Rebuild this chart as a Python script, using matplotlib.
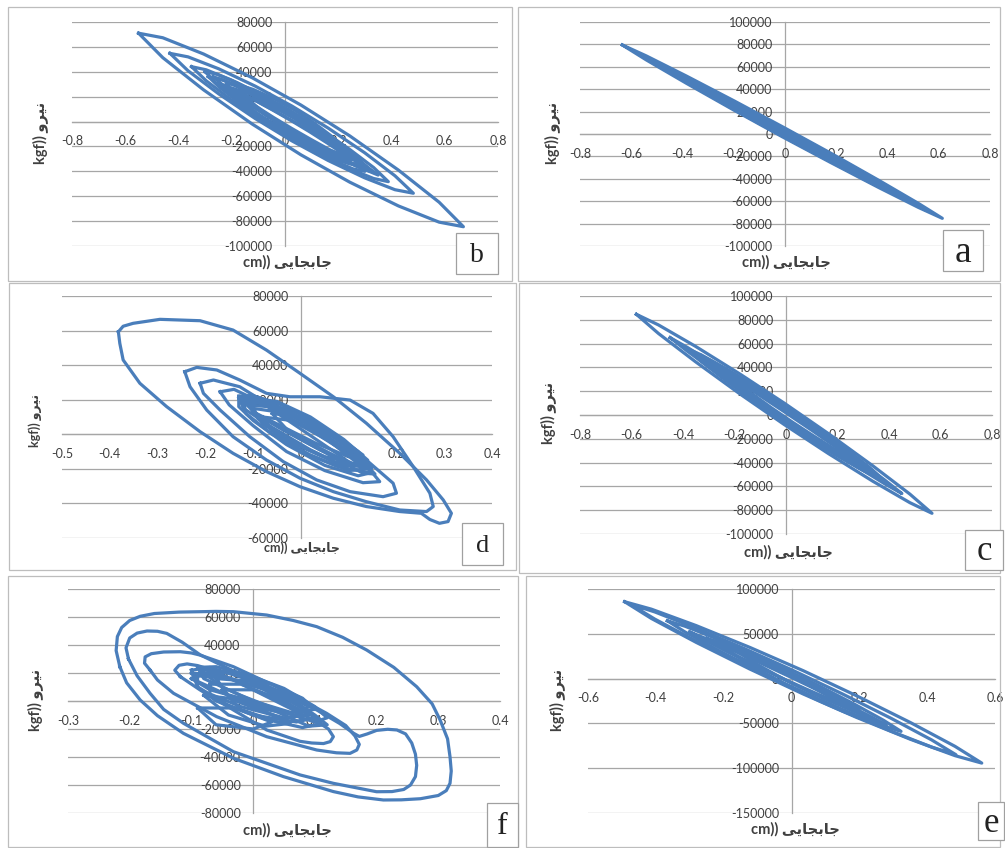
import matplotlib
matplotlib.use("Agg")
import matplotlib.pyplot as plt
from matplotlib.patches import Rectangle

W, H = 1005, 848
BLUE = "#4a7ebb"
GRID = "#a6a6a6"
TEXT = "#404040"

plt.rcParams["font.family"] = ["Lato", "DejaVu Sans"]

# displacement (cm), force (kgf) -- one list of vertices per hysteresis loop
b_loops = [
    [(-0.55, 71000), (-0.459, 67340), (-0.306, 54300), (-0.123, 35175), (0.06, 13250), (0.243, -11475), (0.426, -39000), (0.579, -64840),
     (0.67, -84500), (0.579, -80840), (0.426, -67800), (0.243, -48675), (0.06, -26750), (-0.123, -2025), (-0.306, 25500), (-0.459, 51340)],
    [(-0.432, 54800), (-0.364, 51970), (-0.249, 42400), (-0.112, 28480), (0.025, 12600), (0.162, -5240), (0.299, -25040), (0.413, -43570),
     (0.482, -57600), (0.413, -54770), (0.299, -45200), (0.162, -31280), (0.025, -15400), (-0.112, 2440), (-0.249, 22240), (-0.364, 40770)],
    [(-0.351, 44100), (-0.296, 41570), (-0.203, 33540), (-0.092, 21990), (0.019, 8900), (0.129, -5730), (0.24, -21900), (0.333, -36970),
     (0.388, -48300), (0.333, -45770), (0.24, -37740), (0.129, -26190), (0.019, -13100), (-0.092, 1530), (-0.203, 17700), (-0.296, 32770)],
    [(-0.288, 36100), (-0.243, 34180), (-0.168, 27860), (-0.078, 18710), (0.013, 8300), (0.103, -3370), (0.193, -16300), (0.268, -28380),
     (0.313, -37500), (0.268, -35580), (0.193, -29260), (0.103, -20110), (0.013, -9700), (-0.078, 1970), (-0.168, 14900), (-0.243, 26980)],
    [(-0.238, 28000), (-0.2, 26985), (-0.138, 22520), (-0.063, 15770), (0.013, 7900), (0.088, -1090), (0.163, -11200), (0.225, -20785),
     (0.263, -28200), (0.225, -27185), (0.163, -22720), (0.088, -15970), (0.013, -8100), (-0.063, 890), (-0.138, 11000), (-0.2, 20585)],
    [(-0.19, 22000), (-0.153, 20850), (-0.092, 16160), (-0.019, 9140), (0.055, 1000), (0.129, -8260), (0.202, -18640), (0.263, -28450),
     (0.30, -36000), (0.263, -34850), (0.202, -30160), (0.129, -23140), (0.055, -15000), (-0.019, -5740), (-0.092, 4640), (-0.153, 14450)],
    [(-0.14, 19000), (-0.113, 17950), (-0.068, 14120), (-0.014, 8480), (0.04, 2000), (0.094, -5320), (0.148, -13480), (0.193, -21150),
     (0.22, -27000), (0.193, -25950), (0.148, -22120), (0.094, -16480), (0.04, -10000), (-0.014, -2680), (-0.068, 5480), (-0.113, 13150)],
    [(-0.25, 31000), (-0.205, 27050), (-0.13, 19080), (-0.04, 8820), (0.05, -2000), (0.14, -13380), (0.23, -25320), (0.305, -35850),
     (0.35, -43000), (0.305, -39050), (0.23, -31080), (0.14, -20820), (0.05, -10000), (-0.04, 1380), (-0.13, 13320), (-0.205, 23850)],
    [(-0.3, 40000), (-0.255, 38000), (-0.18, 31200), (-0.09, 21300), (0.0, 10000), (0.09, -2700), (0.18, -16800), (0.255, -30000),
     (0.3, -40000), (0.255, -38000), (0.18, -31200), (0.09, -21300), (0.0, -10000), (-0.09, 2700), (-0.18, 16800), (-0.255, 30000)],
    [(-0.2, 26000), (-0.166, 22925), (-0.11, 16760), (-0.043, 8840), (0.025, 500), (0.093, -8260), (0.16, -17440), (0.216, -25525),
     (0.25, -31000), (0.216, -27925), (0.16, -21760), (0.093, -13840), (0.025, -5500), (-0.043, 3260), (-0.11, 12440), (-0.166, 20525)],
    [(-0.27, 36000), (-0.226, 32700), (-0.152, 25120), (-0.064, 14980), (0.025, 4000), (0.114, -7820), (0.202, -20480), (0.276, -31900),
     (0.32, -40000), (0.276, -36700), (0.202, -29120), (0.114, -18980), (0.025, -8000), (-0.064, 3820), (-0.152, 16480), (-0.226, 27900)],
    [(-0.22, 30000), (-0.183, 30000), (-0.12, 25840), (-0.045, 18760), (0.03, 10000), (0.105, -440), (0.18, -12560), (0.243, -24400),
     (0.28, -34000), (0.243, -34000), (0.18, -29840), (0.105, -22760), (0.03, -14000), (-0.045, -3560), (-0.12, 8560), (-0.183, 20400)],
]

a_loops = [
    [(-0.635, 79500), (-0.541, 69690), (-0.385, 51780), (-0.198, 29505), (-0.011, 6600), (0.177, -16935), (0.364, -41100), (0.52, -61890),
     (0.614, -75300), (0.52, -65490), (0.364, -47580), (0.177, -25305), (-0.011, -2400), (-0.198, 21135), (-0.385, 45300), (-0.541, 66090)],
    [(-0.42, 52000), (-0.353, 45225), (-0.242, 32720), (-0.109, 17105), (0.025, 1000), (0.159, -15595), (0.292, -32680), (0.403, -47425),
     (0.47, -57000), (0.403, -50225), (0.292, -37720), (0.159, -22105), (0.025, -6000), (-0.109, 10595), (-0.242, 27680), (-0.353, 42425)],
    [(-0.3, 38000), (-0.251, 32925), (-0.17, 23600), (-0.073, 11975), (0.025, 0), (0.123, -12325), (0.22, -25000), (0.301, -35925),
     (0.35, -43000), (0.301, -37925), (0.22, -28600), (0.123, -16975), (0.025, -5000), (-0.073, 7325), (-0.17, 20000), (-0.251, 30925)],
    [(-0.55, 69000), (-0.468, 59525), (-0.33, 43040), (-0.165, 22910), (0.0, 2500), (0.165, -18190), (0.33, -39160), (0.468, -56925),
     (0.55, -68000), (0.468, -58525), (0.33, -42040), (0.165, -21910), (0.0, -1500), (-0.165, 19190), (-0.33, 40160), (-0.468, 57925)],
    [(-0.48, 60000), (-0.407, 52050), (-0.284, 37760), (-0.137, 20090), (0.01, 2000), (0.157, -16510), (0.304, -35440), (0.427, -51650),
     (0.5, -62000), (0.427, -54050), (0.304, -39760), (0.157, -22090), (0.01, -4000), (-0.137, 14510), (-0.284, 33440), (-0.407, 49650)],
    [(-0.38, 47000), (-0.32, 40175), (-0.22, 28280), (-0.1, 13745), (0.02, -1000), (0.14, -15955), (0.26, -31120), (0.36, -43975),
     (0.42, -52000), (0.36, -45175), (0.26, -33280), (0.14, -18745), (0.02, -4000), (-0.1, 10955), (-0.22, 26120), (-0.32, 38975)],
]

d_loops = [
    [(-0.382, 59300), (-0.372, 62500), (-0.351, 64200), (-0.295, 66500), (-0.211, 65700), (-0.142, 60300), (-0.072, 48700),
     (-0.002, 35300), (0.068, 21700), (0.137, 6400), (0.207, -11000), (0.263, -26400), (0.298, -38000),
     (0.315, -45700), (0.308, -50500), (0.29, -51500), (0.27, -49300), (0.252, -45700), (0.207, -44700),
     (0.137, -41800), (0.068, -37000), (-0.002, -30300), (-0.072, -21600), (-0.142, -11000), (-0.211, 1500),
     (-0.281, 16000), (-0.337, 29500), (-0.372, 43000), (-0.379, 52600)],
    [(-0.243, 36200), (-0.218, 38700), (-0.176, 37200), (-0.128, 31400), (-0.072, 23700), (-0.023, 21700),
     (0.04, 21700), (0.103, 19800), (0.151, 12100), (0.193, -1400), (0.235, -18700), (0.27, -34100),
     (0.277, -41800), (0.263, -44700), (0.207, -43800), (0.137, -39000), (0.068, -33200), (-0.002, -25400),
     (-0.072, -14900), (-0.142, -1400), (-0.197, 14000), (-0.232, 27500)],
    [(-0.211, 29500), (-0.183, 31400), (-0.128, 27500), (-0.072, 17900), (-0.002, 8300), (0.068, -1400),
     (0.137, -14900), (0.193, -28300), (0.2, -34100), (0.172, -36100), (0.103, -33200), (0.033, -26400),
     (-0.037, -15800), (-0.107, -1400), (-0.169, 14000), (-0.204, 23700)],
    [(-0.169, 24600), (-0.14, 26000), (-0.08, 18000), (0.0, 6000), (0.08, -8000), (0.14, -19000),
     (0.165, -27400), (0.13, -28000), (0.05, -21000), (-0.03, -10000), (-0.1, 5000), (-0.15, 17000)],
    [(-0.13, 22000), (-0.1, 22500), (-0.03, 14000), (0.05, 2000), (0.12, -12000), (0.15, -22000),
     (0.12, -24000), (0.05, -18000), (-0.03, -6000), (-0.1, 8000), (-0.13, 16000)],
    [(-0.12, 19000), (-0.06, 17000), (0.02, 5000), (0.1, -10000), (0.14, -20000), (0.1, -21000),
     (0.02, -12000), (-0.06, 0), (-0.115, 12000)],
    [(-0.1, 15000), (-0.05, 13000), (0.03, 2000), (0.11, -14000), (0.13, -19000), (0.07, -16000),
     (-0.01, -6000), (-0.08, 6000)],
    [(-0.11, 21000), (-0.05, 19000), (0.02, 10000), (0.09, -3000), (0.14, -15000), (0.11, -17000),
     (0.04, -9000), (-0.04, 3000), (-0.1, 13000)],
    [(-0.08, 10000), (-0.02, 8000), (0.06, -4000), (0.12, -17000), (0.08, -19000), (0.0, -10000), (-0.06, 2000)],
    [(-0.125, 20000), (-0.08, 20500), (-0.02, 12000), (0.06, -2000), (0.13, -16000), (0.155, -23000),
     (0.13, -22500), (0.06, -12000), (-0.02, 0), (-0.09, 11000)],
    [(-0.06, 12000), (0.0, 10000), (0.07, 0), (0.12, -10000), (0.145, -19000), (0.11, -18000), (0.04, -8000), (-0.03, 3000)],
    [(-0.11, 17000), (-0.07, 16000), (0.0, 3000), (0.08, -12000), (0.1, -16000), (0.05, -13000), (-0.03, -3000), (-0.09, 9000)],
    [(-0.1, 19000), (-0.04, 15000), (0.04, 4000), (0.1, -6000), (0.13, -12000), (0.1, -13000), (0.03, -5000), (-0.05, 6000), (-0.1, 13000)],
    [(-0.13, 21000), (-0.09, 21500), (-0.04, 17000), (0.03, 7000), (0.1, -8000), (0.15, -19000), (0.14, -22000),
     (0.1, -20000), (0.02, -9000), (-0.06, 4000), (-0.12, 15000)],
]

c_loops = [
    [(-0.581, 84600), (-0.495, 75660), (-0.351, 57640), (-0.179, 34450), (-0.007, 10000), (0.165, -15710), (0.337, -42680), (0.481, -66460),
     (0.567, -82600), (0.481, -73660), (0.337, -55640), (0.165, -32450), (-0.007, -8000), (-0.179, 17710), (-0.351, 44680), (-0.495, 68460)],
    [(-0.386, 56000), (-0.329, 50505), (-0.233, 38920), (-0.118, 23800), (-0.004, 7700), (0.111, -9380), (0.226, -27440), (0.322, -43505),
     (0.379, -54600), (0.322, -49105), (0.226, -37520), (0.111, -22400), (-0.004, -6300), (-0.118, 10780), (-0.233, 28840), (-0.329, 44905)],
    [(-0.33, 50000), (-0.281, 44500), (-0.198, 33600), (-0.099, 19650), (0.0, 5000), (0.099, -10350), (0.198, -26400), (0.281, -40500),
     (0.33, -50000), (0.281, -44500), (0.198, -33600), (0.099, -19650), (0.0, -5000), (-0.099, 10350), (-0.198, 26400), (-0.281, 40500)],
    [(-0.25, 38000), (-0.209, 33600), (-0.14, 24880), (-0.058, 13720), (0.025, 2000), (0.108, -10280), (0.19, -23120), (0.259, -34400),
     (0.3, -42000), (0.259, -37600), (0.19, -28880), (0.108, -17720), (0.025, -6000), (-0.058, 6280), (-0.14, 19120), (-0.209, 30400)],
    [(-0.37, 53000), (-0.315, 46050), (-0.224, 33600), (-0.115, 18225), (-0.005, 2500), (0.105, -13575), (0.214, -30000), (0.305, -44050),
     (0.36, -53000), (0.305, -46050), (0.214, -33600), (0.105, -18225), (-0.005, -2500), (-0.115, 13575), (-0.224, 30000), (-0.315, 44050)],
    [(-0.45, 65000), (-0.383, 56775), (-0.27, 41680), (-0.135, 22870), (0.0, 3500), (0.135, -16430), (0.27, -36920), (0.383, -54575),
     (0.45, -66000), (0.383, -57775), (0.27, -42680), (0.135, -23870), (0.0, -4500), (-0.135, 15430), (-0.27, 35920), (-0.383, 53575)],
    [(-0.3, 44000), (-0.254, 39975), (-0.176, 30840), (-0.083, 18660), (0.01, 5500), (0.103, -8640), (0.196, -23760), (0.274, -37375),
     (0.32, -47000), (0.274, -42975), (0.196, -33840), (0.103, -21660), (0.01, -8500), (-0.083, 5640), (-0.176, 20760), (-0.254, 34375)],
]

f_loops = [
    [(-0.216, 24500), (-0.222, 36000), (-0.22, 46000), (-0.213, 52500), (-0.2, 57500), (-0.183, 60500), (-0.16, 62500),
     (-0.12, 63500), (-0.06, 64000), (-0.032, 63800), (0.022, 61400), (0.065, 57500), (0.103, 53100), (0.145, 45500),
     (0.184, 36400), (0.228, 24000), (0.265, 10200), (0.29, -2000), (0.303, -13600), (0.315, -27000), (0.319, -39800),
     (0.321, -50000), (0.319, -58800), (0.313, -64000), (0.3, -67500), (0.271, -69800), (0.24, -70600), (0.211, -70700),
     (0.17, -68500), (0.13, -64700), (0.049, -54000), (-0.032, -40900), (-0.113, -23100), (-0.155, -10500), (-0.183, 700),
     (-0.205, 13000)],
    [(-0.202, 30000), (-0.206, 38000), (-0.2, 45000), (-0.188, 48500), (-0.172, 50000), (-0.155, 49800), (-0.14, 48300),
     (-0.115, 42000), (-0.086, 33000), (-0.03, 21000), (0.022, 10200), (0.103, -6400), (0.14, -16000), (0.163, -23100),
     (0.172, -25300), (0.185, -23500), (0.2, -21000), (0.218, -20200), (0.233, -20700), (0.247, -23500), (0.257, -30000),
     (0.263, -38000), (0.265, -46000), (0.263, -54000), (0.255, -60000), (0.244, -63200), (0.225, -64700), (0.2, -64800),
     (0.13, -58800), (0.076, -52800), (-0.032, -36200), (-0.113, -15900), (-0.145, -6000), (-0.167, 5500), (-0.188, 18000)],
    [(-0.167, 22100), (-0.176, 27000), (-0.175, 31500), (-0.165, 33800), (-0.145, 35000), (-0.118, 35200), (-0.1, 34300),
     (-0.086, 32800), (-0.032, 24500), (0.049, 7900), (0.119, -8800), (0.15, -17500), (0.165, -25000), (0.172, -31000),
     (0.168, -35000), (0.157, -37400), (0.135, -37000), (0.103, -35000), (0.022, -25500), (-0.059, -11200), (-0.129, 5500),
     (-0.155, 15000)],
    [(-0.118, 17400), (-0.127, 22000), (-0.12, 25500), (-0.107, 26500), (-0.09, 25300), (-0.075, 23300), (-0.032, 15000),
     (0.022, 3100), (0.076, -8800), (0.105, -15000), (0.122, -20000), (0.13, -25500), (0.125, -29000), (0.114, -30400),
     (0.095, -30000), (0.076, -28800), (0.022, -20700), (-0.032, -6400), (-0.086, 7900)],
    [(-0.1, 22000), (-0.07, 24000), (-0.02, 17000), (0.04, 5000), (0.09, -8000), (0.11, -16000),
     (0.08, -19000), (0.02, -13000), (-0.04, -3000), (-0.09, 10000)],
    [(-0.09, 18000), (-0.04, 16000), (0.02, 8000), (0.07, -2000), (0.1, -12000), (0.07, -15000),
     (0.0, -10000), (-0.06, 0), (-0.09, 10000)],
    [(-0.07, 12000), (-0.02, 12000), (0.05, 0), (0.09, -10000), (0.05, -12000), (-0.02, -4000), (-0.07, 5000)],
    [(-0.08, 20000), (-0.03, 20000), (0.03, 12000), (0.08, 2000), (0.1, -6000), (0.06, -8000), (0.0, 0), (-0.05, 10000)],
    [(-0.05, 8000), (0.0, 8000), (0.06, -3000), (0.08, -14000), (0.04, -15000), (-0.02, -6000)],
    [(-0.09, -5000), (-0.06, -17000), (0.0, -20000), (0.03, -15000), (-0.03, -5000)],
    [(-0.1, 16000), (-0.08, 22000), (-0.04, 21000), (0.01, 14000), (0.06, 2000), (0.1, -10000), (0.12, -17000),
     (0.09, -18000), (0.04, -8000), (-0.02, 2000), (-0.07, 8000)],
    [(-0.06, 16000), (0.0, 14000), (0.05, 6000), (0.09, -4000), (0.07, -10000), (0.02, -6000), (-0.04, 4000)],
    [(-0.08, 4000), (-0.04, 2000), (0.02, -8000), (0.06, -16000), (0.02, -18000), (-0.04, -10000)],
    [(-0.1, 20000), (-0.05, 18000), (0.01, 10000), (0.05, 0), (0.08, -10000), (0.05, -13000), (0.0, -4000), (-0.05, 6000), (-0.09, 14000)],
    [(-0.09, 24000), (-0.06, 24500), (-0.01, 19000), (0.05, 9000), (0.1, -4000), (0.12, -12000), (0.1, -15000),
     (0.05, -8000), (-0.02, 4000), (-0.08, 16000)],
]

e_loops = [
    [(-0.492, 85800), (-0.413, 77490), (-0.281, 59140), (-0.123, 34855), (0.035, 8750), (0.192, -19175), (0.35, -48920), (0.482, -75590),
     (0.561, -94300), (0.482, -85990), (0.35, -67640), (0.192, -43355), (0.035, -17250), (-0.123, 10675), (-0.281, 40420), (-0.413, 67090)],
    [(-0.475, 83000), (-0.403, 74400), (-0.283, 56600), (-0.139, 33500), (0.005, 9000), (0.149, -16900), (0.293, -44200), (0.413, -68400),
     (0.485, -85000), (0.413, -76400), (0.293, -58600), (0.149, -35500), (0.005, -11000), (-0.139, 14900), (-0.283, 42200), (-0.403, 66400)],
    [(-0.366, 64500), (-0.314, 58445), (-0.228, 45580), (-0.125, 28750), (-0.022, 10800), (0.082, -8270), (0.185, -28460), (0.271, -46445),
     (0.323, -58900), (0.271, -52845), (0.185, -39980), (0.082, -23150), (-0.022, -5200), (-0.125, 13870), (-0.228, 34060), (-0.314, 52045)],
    [(-0.198, 34600), (-0.165, 31235), (-0.111, 23200), (-0.046, 12340), (0.02, 500), (0.085, -12320), (0.15, -26120), (0.204, -38635),
     (0.237, -47600), (0.204, -44235), (0.15, -36200), (0.085, -25340), (0.02, -13500), (-0.046, -680), (-0.111, 13120), (-0.165, 25635)],
    [(-0.25, 45000), (-0.216, 41000), (-0.16, 32600), (-0.093, 21650), (-0.025, 10000), (0.043, -2350), (0.11, -15400), (0.166, -27000),
     (0.2, -35000), (0.166, -31000), (0.11, -22600), (0.043, -11650), (-0.025, 0), (-0.093, 12350), (-0.16, 25400), (-0.216, 37000)],
    [(-0.15, 28000), (-0.128, 25250), (-0.09, 19280), (-0.045, 11420), (0.0, 3000), (0.045, -5980), (0.09, -15520), (0.128, -24050),
     (0.15, -30000), (0.128, -27250), (0.09, -21280), (0.045, -13420), (0.0, -5000), (-0.045, 3980), (-0.09, 13520), (-0.128, 22050)],
    [(-0.3, 52000), (-0.257, 45400), (-0.184, 33360), (-0.097, 18390), (-0.01, 3000), (0.077, -12810), (0.164, -29040), (0.237, -43000),
     (0.28, -52000), (0.237, -45400), (0.164, -33360), (0.077, -18390), (-0.01, -3000), (-0.097, 12810), (-0.184, 29040), (-0.257, 43000)],
]

x_ticks_08 = [-0.8, -0.6, -0.4, -0.2, 0, 0.2, 0.4, 0.6, 0.8]
d_xticks = [-0.5, -0.4, -0.3, -0.2, -0.1, 0, 0.1, 0.2, 0.3, 0.4]
f_xticks = [-0.3, -0.2, -0.1, 0, 0.1, 0.2, 0.3, 0.4]
e_xticks = [-0.6, -0.4, -0.2, 0, 0.2, 0.4, 0.6]
b_yticks = [-100000, -80000, -60000, -40000, -20000, 0, 20000, 40000, 60000, 80000]
ac_yticks = [-100000, -80000, -60000, -40000, -20000, 0, 20000, 40000, 60000, 80000, 100000]
d_yticks = [-60000, -40000, -20000, 0, 20000, 40000, 60000, 80000]
f_yticks = [-80000, -60000, -40000, -20000, 0, 20000, 40000, 60000, 80000]
e_yticks = [-150000, -100000, -50000, 0, 50000, 100000]

# Persian labels written as presentation forms in display order
FORCE_LABEL = "kgf)) " + "\ufeed\ufeae\ufef4\ufee7"
DISP_LABEL = "cm)) " + "\ufef0\ufef3\ufe8e\ufea0\ufe91\ufe8e\ufe9f"


def fx(px):
    return px / W


def fy(py):
    return 1 - py / H


def draw_panel(fig, loops, xticks, yticks, plot, frame, box, letter, lsize, ylab, xlab, lab_size=10.5):
    x0, y0, x1, y1 = frame
    fig.patches.append(Rectangle((fx(x0), fy(y1)), fx(x1 - x0), (y1 - y0) / H, transform=fig.transFigure,
                                 fill=False, edgecolor="#bdbdbd", lw=0.9))

    p0, q0, p1, q1 = plot
    ax = fig.add_axes([fx(p0), fy(q1), fx(p1 - p0), (q1 - q0) / H])
    ax.patch.set_alpha(0)
    for yv in yticks:
        ax.axhline(yv, color=GRID, lw=0.9, zorder=1)
    for loop in loops:
        xs = [p[0] for p in loop] + [loop[0][0]]
        ys = [p[1] for p in loop] + [loop[0][1]]
        ax.plot(xs, ys, color=BLUE, lw=2.3, solid_joinstyle="round", zorder=2)

    ax.set_xlim(xticks[0], xticks[-1])
    ax.set_ylim(yticks[0], yticks[-1])
    ax.set_xticks(xticks)
    ax.set_yticks(yticks)
    ax.set_xticklabels([f"{v:g}" for v in xticks])
    ax.set_yticklabels([f"{v:g}" for v in yticks])
    for side in ("top", "right"):
        ax.spines[side].set_visible(False)
    ax.spines["left"].set_position(("data", 0))
    ax.spines["bottom"].set_position(("data", 0))
    for side in ("left", "bottom"):
        ax.spines[side].set_color(GRID)
        ax.spines[side].set_linewidth(0.9)
        ax.spines[side].set_zorder(1)
    ax.tick_params(axis="x", length=0, labelsize=9, labelcolor=TEXT, pad=10)
    ax.tick_params(axis="y", length=0, labelsize=9, labelcolor=TEXT, pad=9)

    fig.text(fx(ylab[0]), fy(ylab[1]), FORCE_LABEL, rotation=90, ha="center", va="center",
             fontsize=lab_size, fontweight="bold", color=TEXT)
    fig.text(fx(xlab[0]), fy(xlab[1]), DISP_LABEL, ha="center", va="center",
             fontsize=lab_size, fontweight="bold", color=TEXT)

    bx0, by0, bx1, by1 = box
    fig.patches.append(Rectangle((fx(bx0), fy(by1)), fx(bx1 - bx0), (by1 - by0) / H, transform=fig.transFigure,
                                 facecolor="white", edgecolor="#a0a0a0", lw=0.9, zorder=5))
    fig.text(fx((bx0 + bx1) / 2), fy((by0 + by1) / 2 + 2), letter, ha="center", va="center",
             fontsize=lsize, family="Liberation Serif", color="#222222", zorder=6)
    return ax


fig = plt.figure(figsize=(W / 100, H / 100), dpi=100)
fig.patch.set_facecolor("white")

draw_panel(fig, b_loops, x_ticks_08, b_yticks, (72, 22, 498, 246), (8, 7, 512, 281),
           (456, 233, 498, 274), "b", 20, (40, 133), (287, 262))
draw_panel(fig, a_loops, x_ticks_08, ac_yticks, (580, 22, 990, 246), (518, 7, 1000, 281),
           (943, 230, 983, 271), "a", 27, (552, 133), (786, 262))
draw_panel(fig, d_loops, d_xticks, d_yticks, (62, 296, 492, 538), (9, 283, 516, 570),
           (462, 523, 503, 565), "d", 19, (35, 420), (302, 548), lab_size=9)
draw_panel(fig, c_loops, x_ticks_08, ac_yticks, (580, 296, 992, 534), (519, 283, 1000, 573),
           (965, 530, 1003, 570), "c", 25, (548, 413), (788, 552))
draw_panel(fig, f_loops, f_xticks, f_yticks, (68, 589, 500, 813), (8, 576, 518, 847),
           (487, 803, 518, 847), "f", 23, (35, 700), (287, 830))
draw_panel(fig, e_loops, e_xticks, e_yticks, (588, 589, 995, 813), (526, 576, 1000, 847),
           (978, 802, 1004, 840), "e", 25, (557, 700), (795, 829))

fig.savefig("out.png", dpi=100)
